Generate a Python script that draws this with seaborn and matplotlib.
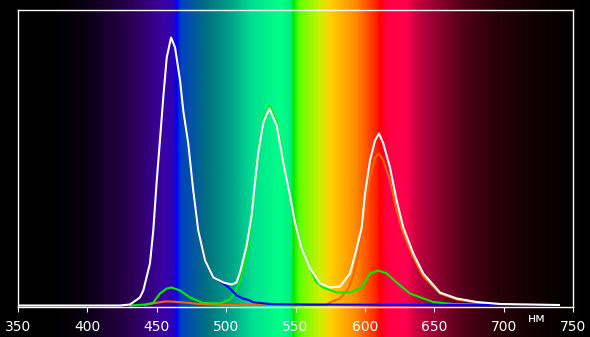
import numpy as np
import pandas as pd
import matplotlib
matplotlib.use("Agg")
import matplotlib.pyplot as plt
from matplotlib.colors import LinearSegmentedColormap, to_rgb
import seaborn as sns

# ---------------- data ----------------
white_nm = [350, 423.5, 430.7, 437.9, 440.3, 445.1, 447.5, 450.0, 452.3, 454.7, 457.2, 460.3,
            463.2, 466.8, 469.1, 472.7, 476.3, 479.9, 484.8, 490.8, 498.0, 504.0, 507.5, 510.4,
            514.8, 518.4, 520.8, 523.2, 526.8, 531.1, 536.5, 541.2, 546.0, 549.6, 554.5, 560.5,
            567.7, 574.9, 582.1, 588.1, 589.3, 594.1, 597.7, 600.1, 603.7, 607.3, 610.2, 613.3,
            618.1, 622.9, 627.7, 634.9, 642.1, 654.1, 666.2, 680.6, 697.4, 719.0, 739.9]
white_val = [0, 0, 1, 8, 15, 42, 75, 125, 165, 208, 248, 268,
             258, 225, 195, 162, 115, 75, 45, 28, 23, 21, 23, 35,
             60, 90, 123, 153, 183, 197, 180, 143, 110, 83, 57, 37,
             22, 18, 19, 30, 32, 57, 78, 112, 145, 165, 172, 162,
             138, 105, 78, 52, 32, 13, 7, 3.5, 1.5, 1, 0.5]

blue_nm = [423.5, 430.7, 437.9, 440.3, 445.1, 447.5, 450.0, 452.3, 454.7, 457.2, 460.3,
           463.2, 466.8, 469.1, 472.7, 476.3, 479.9, 484.8, 490.8, 493.2, 495.6, 502.8,
           507.6, 512.2, 517.2, 519.4, 531.6, 555.4, 650.0, 733.0]
blue_val = [0, 1, 8, 15, 42, 75, 125, 165, 208, 248, 267,
            257, 224, 194, 161, 114, 74, 44, 28, 26, 24, 17,
            10, 7, 5, 3.3, 1.5, 1, 0.6, 0.4]

green_nm = [430.7, 441.5, 447.3, 452.3, 457.2, 460.8, 466.8, 474.0, 483.3, 495.6, 502.8,
            506.4, 510.0, 514.8, 518.4, 520.8, 523.2, 526.8, 531.1, 536.5, 541.2, 546.0,
            549.6, 554.5, 560.5, 564.8, 569.8, 579.7, 589.3, 597.7, 603.7, 609.7, 615.8,
            622.9, 632.5, 649.1, 663.5, 697.4]
green_val = [0, 1, 2.5, 12, 17, 18, 15, 8, 2.5, 2, 6,
             13, 24, 50, 88, 122, 155, 186, 200, 183, 145, 111,
             84, 58, 37, 24, 18, 13, 13, 18, 32, 35, 32,
             23, 12, 3.5, 1.5, 0.5]

red_nm = [441.5, 448.7, 455.9, 460.3, 470.4, 481.2, 502.8, 572.5, 574.9, 582.1, 588.1,
          591.7, 595.1, 598.0, 600.9, 603.7, 607.3, 610.2, 613.3, 618.1, 622.9, 627.7,
          634.9, 642.1, 654.1, 666.2, 680.6, 692.4]
red_val = [0.5, 2.5, 4, 4, 3, 1.5, 0.5, 0.5, 3, 7, 17,
           30, 50, 72, 105, 128, 148, 152, 145, 125, 95, 72,
           48, 29, 12, 6, 3, 1]

tick_values = [350, 400, 450, 500, 550, 600, 650, 700, 750]
unit_label = "нм"

# background spectrum (wavelength -> colour)
spec_nm = [337, 375, 395, 431, 454, 462, 464.5, 467, 486, 503, 519, 539, 546.5, 548.4,
           553, 568, 575, 580, 594, 608.5, 611, 615.7, 630, 637, 652, 671, 695, 719, 743, 762.2]
spec_col = ["#000000", "#000000", "#06000c", "#2a0050", "#3c00a0", "#2c00b8", "#0000ff",
            "#0040c0", "#007080", "#00a088", "#00e090", "#00ff88", "#00f080", "#00e800",
            "#60ff00", "#d0f000", "#ffd000", "#ffc000", "#ff8800", "#ff2000", "#ff0000",
            "#ff0040", "#ff0050", "#cc0040", "#900030", "#500018", "#280008", "#140004",
            "#050000", "#000000"]

# ---------------- figure ----------------
W, H = 590, 337
fig = plt.figure(figsize=(W / 100, H / 100), dpi=100, facecolor="black")

# background gradient spanning the whole figure
x_left = 350 - 18 * 400 / 555
x_right = 350 + (W - 18) * 400 / 555
pos = [(v - x_left) / (x_right - x_left) for v in spec_nm]
pos[0], pos[-1] = 0.0, 1.0
cmap = LinearSegmentedColormap.from_list("spec", list(zip(pos, [to_rgb(c) for c in spec_col])), N=1024)
bg = fig.add_axes([0, 0, 1, 1])
bg.imshow(np.linspace(0, 1, 1200)[None, :], cmap=cmap, aspect="auto",
          extent=[x_left, x_right, 0, 1], interpolation="bilinear")
bg.set_xlim(x_left, x_right)
bg.axis("off")

ax = fig.add_axes([18 / W, 30.3 / H, 555 / W, 296.7 / H])
ax.patch.set_alpha(0)

frames = []
for name, xs, ys in [("red", red_nm, red_val), ("green", green_nm, green_val),
                     ("blue", blue_nm, blue_val), ("white", white_nm, white_val)]:
    frames.append(pd.DataFrame({"nm": xs, "val": ys, "ch": name}))
df = pd.concat(frames, ignore_index=True)

palette = {"red": "#ff6000", "green": "#00ee00", "blue": "#0000ff", "white": "#ffffff"}
sns.lineplot(data=df, x="nm", y="val", hue="ch", hue_order=["red", "green", "blue", "white"],
             palette=palette, estimator=None, sort=False, linewidth=1.5, legend=False, ax=ax)

ax.set_xlim(350, 750)
ax.set_ylim(-1.2, 295.5)
ax.set_xlabel("")
ax.set_ylabel("")
ax.set_yticks([])
ax.set_xticks(tick_values)
ax.set_xticklabels([str(t) for t in tick_values])
ax.tick_params(axis="x", colors="white", direction="out", length=3.6, width=0.8,
               labelsize=10, pad=6)
for s in ax.spines.values():
    s.set_color("white")
    s.set_linewidth(1.0)

fig.text(536.7 / W, 1 - 319 / H, unit_label, color="white", fontsize=9,
         ha="center", va="center")

fig.savefig("out.png", dpi=100, facecolor="black")
